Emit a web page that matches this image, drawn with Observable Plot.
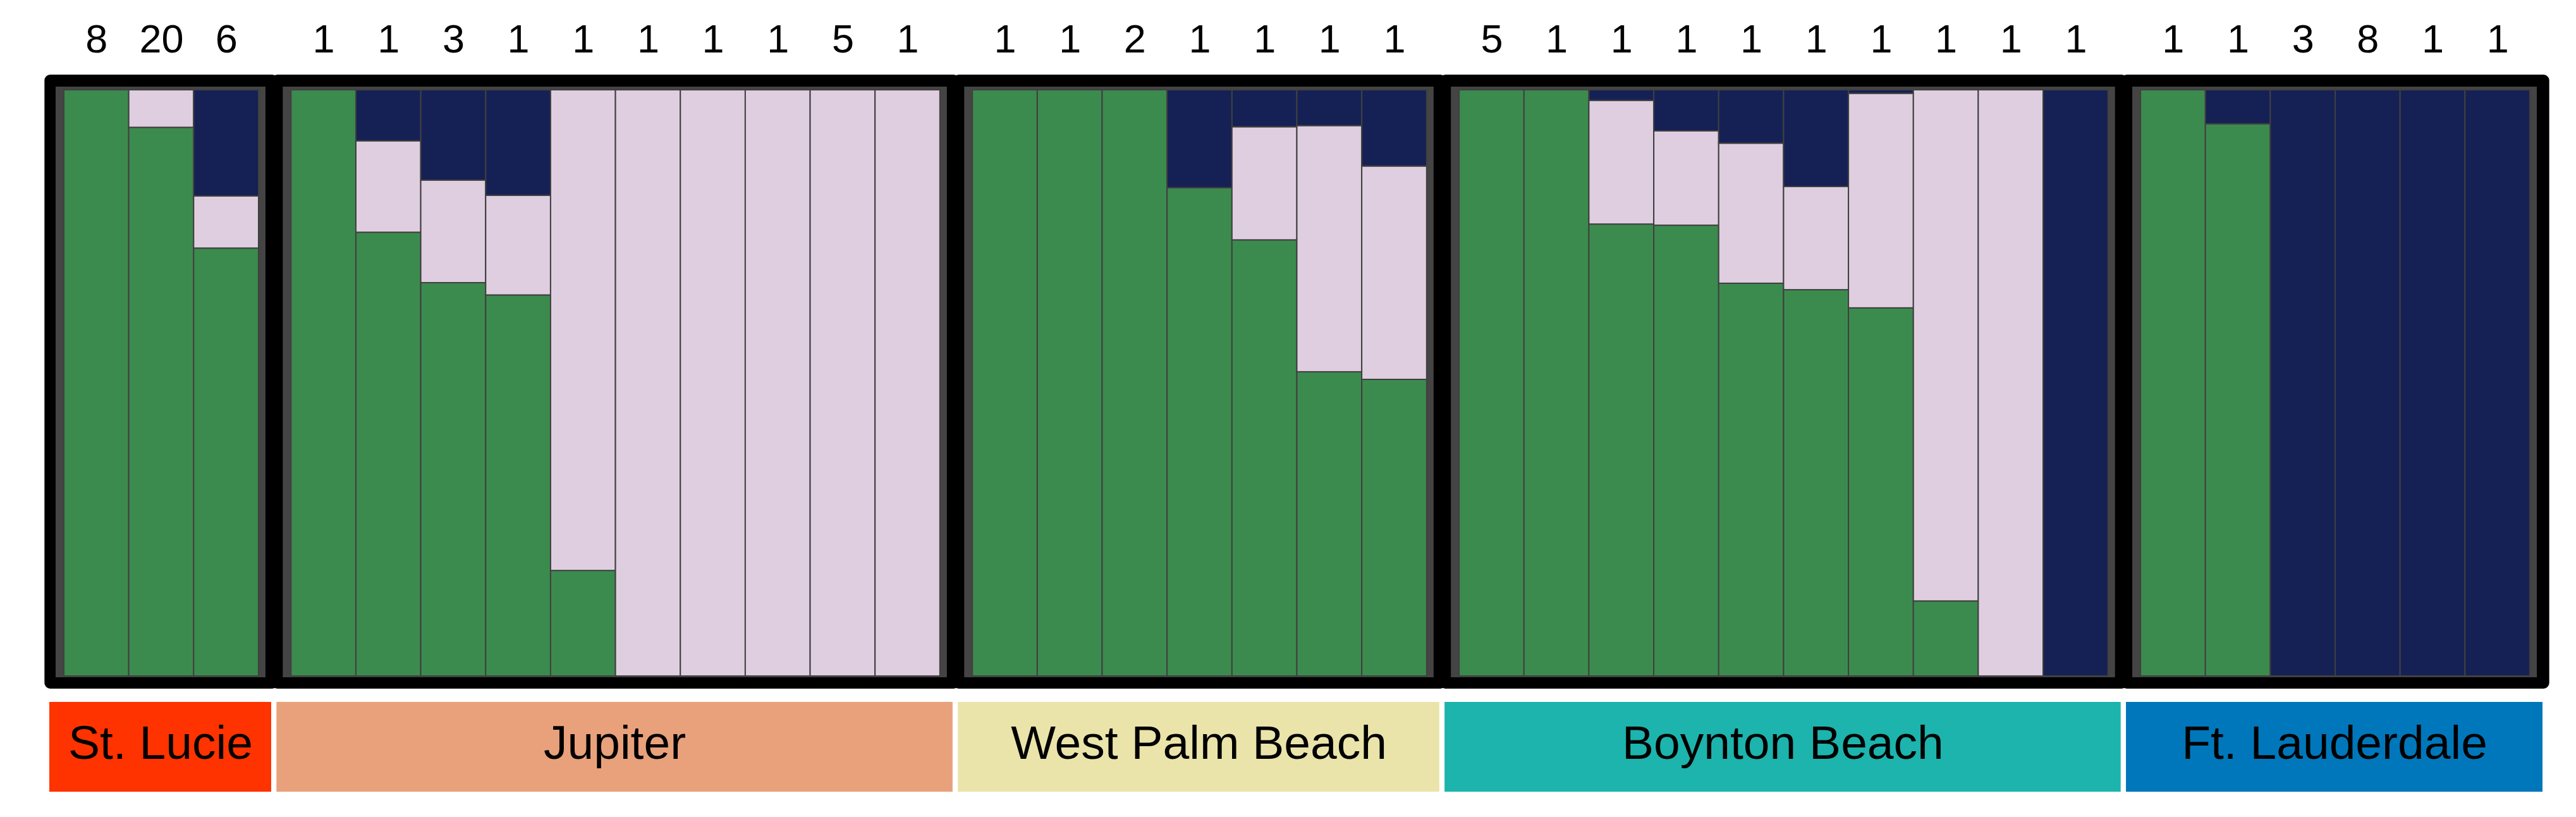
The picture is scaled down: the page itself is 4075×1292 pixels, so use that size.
<!DOCTYPE html>
<html>
<head>
<meta charset="utf-8">
<script src="https://cdn.jsdelivr.net/npm/d3@7"></script>
<script src="https://cdn.jsdelivr.net/npm/@observablehq/plot@0.6"></script>
<style>
  html, body { margin: 0; padding: 0; background: #ffffff; }
  #chart svg { display: block; }
</style>
</head>
<body>
<div id="chart"></div>
<script>
// ---------------- DATA ----------------
const groups = ["St. Lucie", "Jupiter", "West Palm Beach", "Boynton Beach", "Ft. Lauderdale"];
const groupSizes = [3, 10, 7, 10, 6];
const groupColors = ["#FF3300", "#E9A17B", "#EAE4AA", "#1CB4AD", "#0077BB"];

// number of individuals per bar (labels above the bars)
const sampleCounts = [
  8, 20, 6,
  1, 1, 3, 1, 1, 1, 1, 1, 5, 1,
  1, 1, 2, 1, 1, 1, 1,
  5, 1, 1, 1, 1, 1, 1, 1, 1, 1,
  1, 1, 3, 8, 1, 1
];

// ancestry clusters (stacked bottom -> top)
const clusters = ["Cluster 1", "Cluster 2", "Cluster 3"];
const clusterColors = ["#3C8B4E", "#DFCEE0", "#152155"];

const cluster1 = [ // green
  1.000, 0.936, 0.730,
  1.000, 0.757, 0.671, 0.650, 0.180, 0, 0, 0, 0, 0,
  1.000, 1.000, 1.000, 0.833, 0.744, 0.519, 0.506,
  1.000, 1.000, 0.771, 0.769, 0.670, 0.659, 0.628, 0.128, 0, 0,
  1.000, 0.942, 0, 0, 0, 0
];
const cluster2 = [ // pink
  0, 0.064, 0.089,
  0, 0.156, 0.175, 0.170, 0.820, 1, 1, 1, 1, 1,
  0, 0, 0, 0, 0.193, 0.420, 0.364,
  0, 0, 0.211, 0.161, 0.239, 0.176, 0.366, 0.872, 1, 0,
  0, 0, 0, 0, 0, 0
];
const cluster3 = [ // navy
  0, 0, 0.181,
  0, 0.087, 0.154, 0.180, 0, 0, 0, 0, 0, 0,
  0, 0, 0, 0.167, 0.063, 0.061, 0.130,
  0, 0, 0.018, 0.070, 0.091, 0.165, 0.006, 0, 0, 1,
  0, 0.058, 1, 1, 1, 1
];

// ---------------- TABLES ----------------
const groupGap = 0.5;             // gap between populations, in bar widths
const bars = [];
const groupData = [];
{
  let i = 0;
  groups.forEach((name, g) => {
    const start = i + g * groupGap;
    for (let k = 0; k < groupSizes[g]; k++, i++) {
      const x1 = i + g * groupGap;
      bars.push({index: i, group: name, x1, x2: x1 + 1, xc: x1 + 0.5, count: sampleCounts[i]});
    }
    const end = (i - 1) + g * groupGap + 1;
    groupData.push({name, start, end});
  });
}
const series = [cluster1, cluster2, cluster3];
const segments = [];
bars.forEach(b => {
  let acc = 0;
  series.forEach((s, k) => {
    const v = s[b.index];
    if (v > 0) {
      segments.push({x1: b.x1, x2: b.x2, y1: acc, y2: Math.min(1, acc + v), cluster: clusters[k]});
    }
    acc += v;
  });
});

// ---------------- LAYOUT ----------------
const W = 4075, H = 1292;
const xDomainMax = bars[bars.length - 1].x2;        // 38
const xRange = [101, 4002];
const yRange = [1069, 142];
const unit = (xRange[1] - xRange[0]) / xDomainMax;  // pixels per bar
const pu = p => p / unit;                            // pixel offset -> x units
const py = p => (yRange[0] - p) / (yRange[0] - yRange[1]); // pixel row -> y units
const FONT = "'Liberation Sans', Arial, Helvetica, sans-serif";

const chart = Plot.plot({
  width: W,
  height: H,
  margin: 0,
  style: {background: "#ffffff", fontFamily: FONT},
  x: {domain: [0, xDomainMax], range: xRange, axis: null},
  y: {domain: [0, 1], range: yRange, axis: null},
  color: {domain: [...clusters, ...groups], range: [...clusterColors, ...groupColors]},
  marks: [
    // thick black frame around each population
    Plot.rect(groupData, {
      x1: d => d.start - 0.25, x2: d => d.end + 0.25,
      y1: () => py(1084), y2: () => py(123),
      fill: "#000000", stroke: "#000000", strokeWidth: 10, strokeLinejoin: "round", rx: 4
    }),
    // dark grey inner panel
    Plot.rect(groupData, {
      x1: d => d.start - pu(13), x2: d => d.end + pu(11),
      y1: () => py(1071), y2: () => py(137),
      fill: "#444444"
    }),
    // stacked ancestry bars
    Plot.rect(segments, {
      x1: "x1", x2: "x2", y1: "y1", y2: "y2",
      fill: "cluster", stroke: "#404040", strokeWidth: 2
    }),
    // sample counts above bars
    Plot.text(bars, {
      x: "xc", y: () => py(82), text: d => String(d.count),
      fontSize: 63, fill: "#000000", lineAnchor: "bottom", textAnchor: "middle", fontFamily: FONT
    }),
    // population label boxes
    Plot.rect(groupData, {
      x1: d => d.start - pu(23), x2: d => d.end + pu(20),
      y1: () => py(1252), y2: () => py(1110),
      fill: "name"
    }),
    Plot.text(groupData, {
      x: d => (d.start - pu(23) + d.end + pu(20)) / 2, y: () => py(1199.5), text: "name",
      fontSize: 75, fill: "#000000", lineAnchor: "bottom", textAnchor: "middle", fontFamily: FONT
    })
  ]
});
document.getElementById("chart").appendChild(chart);
</script>
</body>
</html>
